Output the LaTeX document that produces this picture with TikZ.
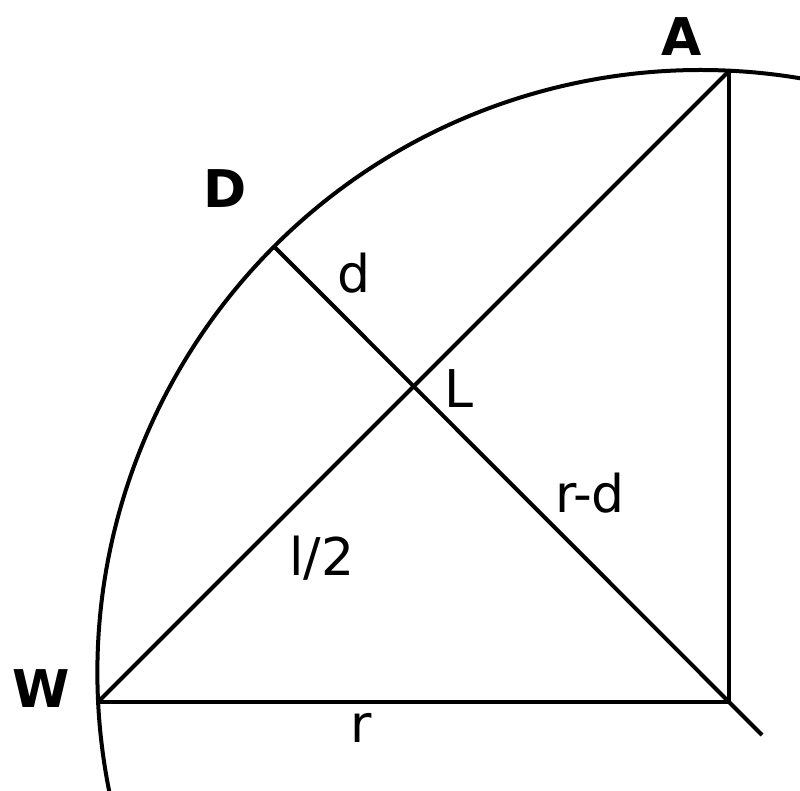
\documentclass[tikz,border=0pt]{standalone}
\usepackage{fontspec}
\setmainfont{DejaVu Sans}
\usetikzlibrary{calc}
\begin{document}
\begin{tikzpicture}[x=1pt,y=1pt,
  geo/.style={line width=4pt,black},
  lbl/.style={anchor=base,inner sep=0pt,font=\fontsize{52}{60}\selectfont},
  blbl/.style={lbl,font=\fontsize{52}{60}\selectfont\bfseries}]
\useasboundingbox (0,0) rectangle (800,791);
\clip (0,0) rectangle (800,791);
\coordinate (C) at (700.5,118);
\coordinate (O) at (729,89);
\coordinate (W) at (98,89);
\coordinate (A) at (729,720);
\coordinate (D) at ($(C)+(135:603)$);
\coordinate (L) at ($(W)!0.5!(A)$);
\coordinate (E) at (762,56);
% circle arc
\draw[geo] ($(C)+(193:603)$) arc[start angle=193,end angle=76,radius=603];
% triangle and lines
\draw[geo] (W) -- (O) -- (A);
\draw[geo] (W) -- (A);
\draw[geo] (D) -- (E);
% labels
\node[blbl] (lA) at (682,735) {A};
\node[blbl] (lD) at (225,583) {D};
\node[blbl] (lW) at (41,83) {W};
\node[lbl] (ld) at (354,498) {d};
\node[lbl] (lL) at (459,383) {L};
\node[lbl] (lrd) at (590,278) {r-d};
\node[lbl] (ll2) at (322,215) {l/2};
\node[lbl] (lr) at (361,48) {r};
\end{tikzpicture}
\end{document}
